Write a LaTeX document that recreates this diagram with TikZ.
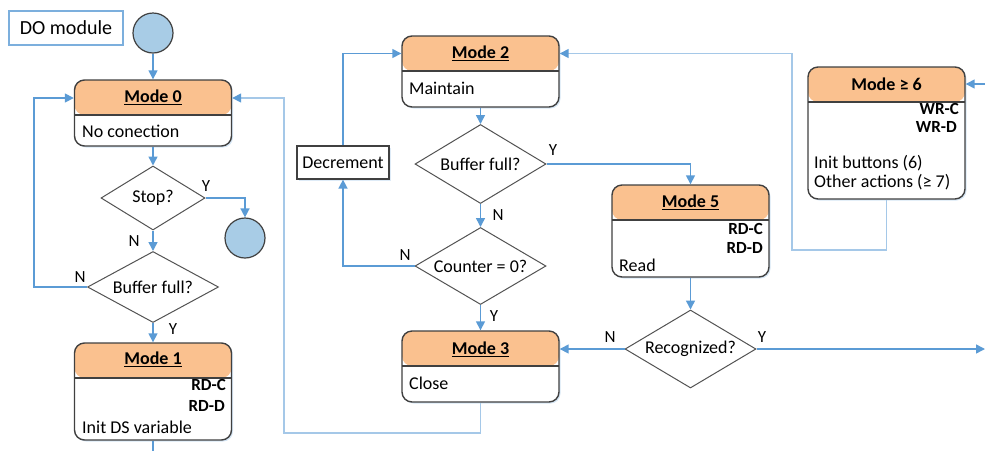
\documentclass[tikz,border=0pt]{standalone}
\usepackage{fontspec}
\setmainfont{Carlito}
\usepackage{tikz}
\usetikzlibrary{arrows.meta, positioning, shapes.geometric, shadows}
\definecolor{flowblue}{RGB}{91,155,213}
\definecolor{headorange}{RGB}{250,193,143}
\definecolor{termblue}{RGB}{168,204,230}
\definecolor{edgegray}{RGB}{64,64,64}

\begin{document}
\begin{tikzpicture}[
    x=1pt, y=-1pt,
    font=\fontsize{18}{21}\selectfont,
    modebox/.style={draw=edgegray, line width=1.4pt, rounded corners=10pt, fill=white,
      minimum width=157pt, inner sep=0pt,
      drop shadow={shadow xshift=1.5pt, shadow yshift=-1.5pt, opacity=0.25, fill=flowblue},
      path picture={
        \fill[headorange] (path picture bounding box.north west) rectangle
          ([yshift=-35pt]path picture bounding box.north east);
        \draw[edgegray, line width=1.4pt]
          ([yshift=-35pt]path picture bounding box.north west) --
          ([yshift=-35pt]path picture bounding box.north east);
      }},
    modetitle/.style={font=\fontsize{18}{21}\selectfont\bfseries, inner sep=0pt},
    bodyl/.style={anchor=west, inner sep=0pt},
    bodyr/.style={anchor=east, inner sep=0pt, font=\fontsize{17}{20}\selectfont\bfseries},
    decision/.style={diamond, draw=edgegray!90, line width=1pt, fill=white, aspect=1.7,
      inner sep=0pt, minimum width=131pt, minimum height=78pt},
    term/.style={circle, draw=edgegray, line width=1.2pt, fill=termblue,
      minimum size=40pt, inner sep=0pt},
    action/.style={draw=edgegray, line width=1.2pt, fill=white, minimum width=92pt,
      minimum height=33pt, inner sep=0pt,
      drop shadow={shadow xshift=1.5pt, shadow yshift=-1.5pt, opacity=0.2, fill=flowblue}},
    tagbox/.style={draw=flowblue!80, line width=1.2pt, minimum width=114pt,
      minimum height=34pt, inner sep=0pt, font=\fontsize{20}{24}\selectfont},
    yn/.style={font=\fontsize{17}{20}\selectfont, inner sep=0pt},
    flow/.style={draw=flowblue, line width=1.5pt, -{Triangle[length=9pt,width=9pt]}},
    flowline/.style={draw=flowblue, line width=1.5pt},
    backflow/.style={draw=flowblue!55, line width=1.5pt,
      -{Triangle[length=9pt,width=9pt,color=flowblue]}}
  ]
  \useasboundingbox (0,0) rectangle (985,451);

  % Left column: start, Mode 0, Mode 1
  \node[tagbox] (domod) at (66,28) {DO module};
  \node[term] (start) at (153,33) {};
  \node[modebox, minimum height=66pt] (mode0) at (153,113) {};
  \node[modetitle] (mode0-t) at (153,97.5) {\underline{Mode 0}};
  \node[bodyl] (mode0-b) at (82,131) {No conection};
  \node[decision, minimum width=104pt, minimum height=64pt] (stop) at (153,198) {Stop?};
  \node[term] (stopend) at (245,238) {};
  \node[decision, minimum height=71pt] (buf0) at (153,287) {Buffer full?};
  \node[modebox, minimum height=97pt] (mode1) at (153,391.5) {};
  \node[modetitle] (mode1-t) at (153,359.5) {\underline{Mode 1}};
  \node[bodyr] (mode1-c) at (226,385) {RD-C};
  \node[bodyr] (mode1-d) at (225,406) {RD-D};
  \node[bodyl] (mode1-b) at (82,427) {Init DS variable};

  % Middle column: Mode 2, counter loop, Mode 3
  \node[modebox, minimum height=71pt] (mode2) at (480.5,71.5) {};
  \node[modetitle] (mode2-t) at (480.5,53.5) {\underline{Mode 2}};
  \node[bodyl] (mode2-b) at (409,88) {Maintain};
  \node[decision, minimum height=79pt] (buf2) at (480.5,164) {Buffer full?};
  \node[decision, minimum height=77pt] (cnt) at (480.5,266) {Counter = 0?};
  \node[action] (decr) at (343,162.5) {Decrement};
  \node[modebox, minimum height=71pt] (mode3) at (480.5,366.5) {};
  \node[modetitle] (mode3-t) at (480.5,349) {\underline{Mode 3}};
  \node[bodyl] (mode3-b) at (409,383) {Close};

  % Right side: Mode 5, recognition, Mode >= 6
  \node[modebox, minimum height=92pt] (mode5) at (690.5,231) {};
  \node[modetitle] (mode5-t) at (690.5,202.5) {\underline{Mode 5}};
  \node[bodyr] (mode5-c) at (763,229) {RD-C};
  \node[bodyr] (mode5-d) at (763,248) {RD-D};
  \node[bodyl] (mode5-b) at (619,265) {Read};
  \node[decision] (recog) at (690.5,349) {Recognized?};
  \node[modebox, minimum height=132pt] (mode6) at (886.5,133) {};
  \node[modetitle] (mode6-t) at (886.5,84) {Mode ≥ 6};
  \node[bodyr] (mode6-c) at (959,109) {WR-C};
  \node[bodyr] (mode6-d) at (957,127) {WR-D};
  \node[bodyl] (mode6-b) at (814,163) {Init buttons (6)};
  \node[bodyl] (mode6-e) at (814,182) {Other actions (≥ 7)};

  % free ends and corners
  \coordinate (loopL) at (34,98);
  \coordinate (retB) at (284,433);
  \coordinate (retT) at (284,98);
  \coordinate (m6turn) at (792,250);
  \coordinate (m1out) at (153,451);
  \coordinate (outR) at (985,349);
  \coordinate (inR) at (985,84);

  % Left flow
  \draw[flow] (start) -- (mode0);
  \draw[flow] (mode0) -- (stop);
  \draw[flow] (stop.east) -| (stopend.north);
  \node[yn] (stop-y) at (206,186) {Y};
  \draw[flow] (stop) -- (buf0);
  \node[yn] (stop-n) at (134,241) {N};
  \draw[flow] (buf0.west) -| (loopL) -- (mode0.west |- loopL);
  \node[yn] (buf0-n) at (80,277) {N};
  \draw[flow] (buf0) -- (mode1);
  \node[yn] (buf0-y) at (173,329) {Y};
  \draw[flowline] (mode1.south) -- (m1out);

  % Middle flow
  \draw[flow] (mode2) -- (buf2);
  \draw[flow] (buf2.east) -| (mode5.north);
  \node[yn] (buf2-y) at (553,150) {Y};
  \draw[flow] (buf2) -- (cnt);
  \node[yn] (buf2-n) at (498,215) {N};
  \draw[flow] (cnt.west) -| (decr.south);
  \node[yn] (cnt-n) at (405,255) {N};
  \draw[flow] (decr.north) |- (mode2-t -| mode2.west);
  \draw[flow] (cnt) -- (mode3);
  \node[yn] (cnt-y) at (494,316) {Y};
  \draw[backflow] (mode3.south) |- (retB) -- (retT) -- (mode0.east |- retT);

  % Right flow
  \draw[flow] (mode5) -- (recog);
  \draw[flow] (recog.west) -- (recog.west -| mode3.east);
  \node[yn] (recog-n) at (610,337) {N};
  \draw[flow] (recog.east) -- (outR);
  \node[yn] (recog-y) at (762,337) {Y};
  \draw[flow] (inR) -- (mode6-t -| mode6.east);
  \draw[backflow] (mode6.south) |- (m6turn) |- (mode2-t -| mode2.east);
\end{tikzpicture}
\end{document}
